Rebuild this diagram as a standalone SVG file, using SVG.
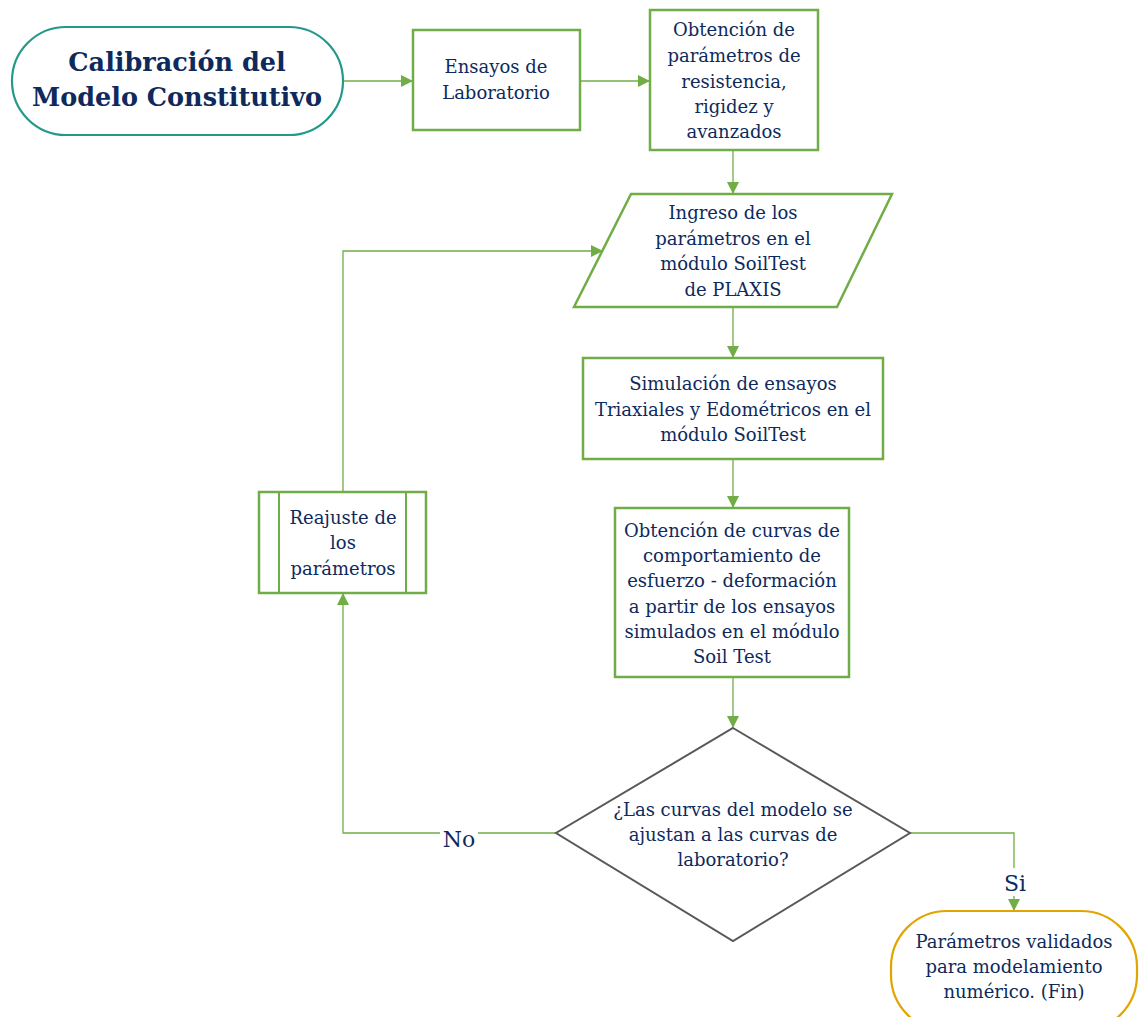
<svg xmlns="http://www.w3.org/2000/svg" width="1144" height="1017" viewBox="0 0 1144 1017">
<style>
.box{fill:#fff;stroke:#70ad47;stroke-width:2.5}
.conn{fill:none;stroke:#70ad47;stroke-width:1.3}
.t{font-family:"DejaVu Serif","Liberation Serif",serif;font-size:18px;fill:#0e2a5c;text-anchor:middle}
.tb{font-family:"DejaVu Serif","Liberation Serif",serif;font-size:25.5px;font-weight:bold;fill:#0e2a5c;text-anchor:middle}
.lbl{font-family:"DejaVu Serif","Liberation Serif",serif;font-size:22px;fill:#0e2a5c;text-anchor:middle}
</style>
<defs>
<marker id="arr" markerWidth="12" markerHeight="12" refX="11" refY="6" orient="auto" markerUnits="userSpaceOnUse">
<path d="M0,0 L12,6 L0,12 Z" fill="#70ad47"/>
</marker>
</defs>
<rect width="1144" height="1017" fill="#fff"/>
<g id="connectors">
<line class="conn" x1="343" y1="81" x2="412" y2="81" marker-end="url(#arr)"/>
<line class="conn" x1="580" y1="81" x2="649" y2="81" marker-end="url(#arr)"/>
<line class="conn" x1="733" y1="150" x2="733" y2="193" marker-end="url(#arr)"/>
<line class="conn" x1="733" y1="307" x2="733" y2="357" marker-end="url(#arr)"/>
<line class="conn" x1="733" y1="459" x2="733" y2="507" marker-end="url(#arr)"/>
<line class="conn" x1="733" y1="677" x2="733" y2="727" marker-end="url(#arr)"/>
<polyline class="conn" points="556,833 343,833 343,594" marker-end="url(#arr)"/>
<polyline class="conn" points="343,492 343,251 602,251" marker-end="url(#arr)"/>
<polyline class="conn" points="910,833 1014,833 1014,910" marker-end="url(#arr)"/>
<rect x="440" y="825" width="38" height="24" fill="#fff"/>
<text class="lbl" x="459" y="847">No</text>
<rect x="1000" y="868" width="30" height="28" fill="#fff"/>
<text class="lbl" x="1015" y="891">Si</text>
</g>
<g id="start">
<rect x="12" y="27" width="331" height="108" rx="54" fill="#fff" stroke="#23998a" stroke-width="2.2"/>
<text class="tb" x="177" y="71">Calibración del</text>
<text class="tb" x="177" y="106">Modelo Constitutivo</text>
</g>
<g id="ensayos">
<rect class="box" x="413" y="30" width="167" height="100"/>
<text class="t" x="496" y="73">Ensayos de</text>
<text class="t" x="496" y="99">Laboratorio</text>
</g>
<g id="obtencion-parametros">
<rect class="box" x="650" y="10" width="168" height="140"/>
<text class="t" x="734" y="36">Obtención de</text>
<text class="t" x="734" y="62">parámetros de</text>
<text class="t" x="734" y="88">resistencia,</text>
<text class="t" x="734" y="113">rigidez y</text>
<text class="t" x="734" y="138">avanzados</text>
</g>
<g id="ingreso">
<polygon class="box" points="631,194 892,194 837,307 574,307"/>
<text class="t" x="733" y="219">Ingreso de los</text>
<text class="t" x="733" y="245">parámetros en el</text>
<text class="t" x="733" y="270">módulo SoilTest</text>
<text class="t" x="733" y="296">de PLAXIS</text>
</g>
<g id="simulacion">
<rect class="box" x="583" y="358" width="300" height="101"/>
<text class="t" x="733" y="390">Simulación de ensayos</text>
<text class="t" x="733" y="416">Triaxiales y Edométricos en el</text>
<text class="t" x="733" y="441">módulo SoilTest</text>
</g>
<g id="curvas">
<rect class="box" x="615" y="508" width="234" height="169"/>
<text class="t" x="732" y="537">Obtención de curvas de</text>
<text class="t" x="732" y="562">comportamiento de</text>
<text class="t" x="732" y="587">esfuerzo - deformación</text>
<text class="t" x="732" y="613">a partir de los ensayos</text>
<text class="t" x="732" y="638">simulados en el módulo</text>
<text class="t" x="732" y="663">Soil Test</text>
</g>
<g id="decision">
<polygon points="733,728 910,833 733,941 556,833" fill="#fff" stroke="#595959" stroke-width="2"/>
<text class="t" x="733" y="816">¿Las curvas del modelo se</text>
<text class="t" x="733" y="841">ajustan a las curvas de</text>
<text class="t" x="733" y="866">laboratorio?</text>
</g>
<g id="reajuste">
<rect class="box" x="259" y="492" width="167" height="101"/>
<line x1="279" y1="492" x2="279" y2="593" stroke="#70ad47" stroke-width="2"/>
<line x1="406" y1="492" x2="406" y2="593" stroke="#70ad47" stroke-width="2"/>
<text class="t" x="343" y="524">Reajuste de</text>
<text class="t" x="343" y="549">los</text>
<text class="t" x="343" y="575">parámetros</text>
</g>
<g id="fin">
<rect x="891" y="911" width="246" height="120" rx="56" fill="#fff" stroke="#e2a400" stroke-width="2.2"/>
<text class="t" x="1014" y="948">Parámetros validados</text>
<text class="t" x="1014" y="973">para modelamiento</text>
<text class="t" x="1014" y="998">numérico. (Fin)</text>
</g>
</svg>
